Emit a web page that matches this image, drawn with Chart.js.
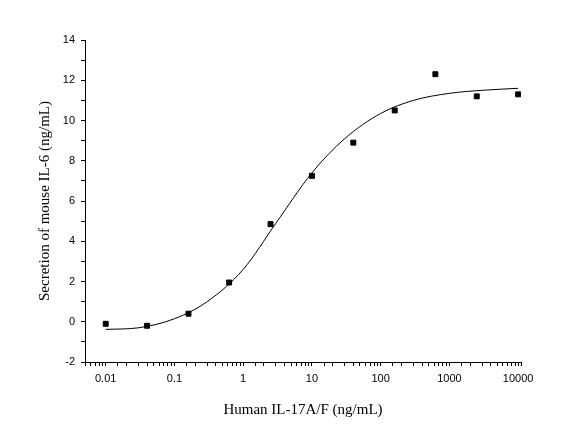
<!DOCTYPE html>
<html><head><meta charset="utf-8">
<script src="https://cdn.jsdelivr.net/npm/chart.js@4"></script>
<style>html,body{margin:0;padding:0;background:#fff}#w{width:569px;height:447px}</style>
</head><body><div id="w"><canvas id="c"></canvas></div>
<script>
const doseX = [0.01, 0.04, 0.16, 0.625, 2.5, 10, 40, 160, 625, 2500, 10000];
const secretionY = [-0.1, -0.2, 0.4, 1.95, 4.85, 7.25, 8.9, 10.5, 12.3, 11.2, 11.3];
const fitX = [0.01, 0.03, 0.1, 0.3, 1, 3, 10, 30, 100, 300, 1000, 3000, 10000];
const fitY = [-0.38, -0.3, 0.15, 1.0, 2.6, 4.9, 7.4, 9.1, 10.35, 11.0, 11.35, 11.5, 11.6];
const xTickLabels = [0.01, 0.1, 1, 10, 100, 1000, 10000];

const pts = doseX.map((x,i)=>({x, y: secretionY[i]}));
const fit = fitX.map((x,i)=>({x, y: fitY[i]}));
new Chart(document.getElementById('c'), {
  data: { datasets: [
    { type:'line', data: fit, borderColor:'#000', borderWidth:1, pointRadius:0, tension:0.4, cubicInterpolationMode:'monotone' },
    { type:'scatter', data: pts, pointStyle:'rect', pointRadius:3.5, backgroundColor:'#000', borderColor:'#000' }
  ]},
  options: {
    responsive:true, maintainAspectRatio:false, animation:false,
    layout:{ padding:{ top:40, right:48, left:32, bottom:24 } },
    plugins:{ legend:{display:false}, tooltip:{enabled:false} },
    scales:{
      x:{ type:'logarithmic', min:0.005, max:11000,
        afterFit:s=>{ s.height = 61; },
        border:{ color:'#000', width:1 },
        grid:{ drawOnChartArea:false, tickLength:4, color:'#000' },
        ticks:{ autoSkip:false, maxRotation:0, color:'#000', font:{family:'Liberation Sans', size:11}, padding:6,
          callback:(v)=> xTickLabels.includes(Number(v)) ? String(Number(v)) : '' },
        title:{ display:true, text:'Human IL-17A/F (ng/mL)', color:'#000', font:{family:'Liberation Serif', size:15}, padding:{top:8} }
      },
      y:{ min:-2, max:14,
        afterFit:s=>{ s.width = 53; },
        border:{ color:'#000', width:1 },
        grid:{ drawOnChartArea:false, tickLength:4, color:'#000' },
        ticks:{ stepSize:1, autoSkip:false, color:'#000', font:{family:'Liberation Sans', size:11}, padding:6,
          callback:(v)=> v%2===0 ? String(v) : '' },
        title:{ display:true, text:'Secretion of mouse IL-6 (ng/mL)', color:'#000', font:{family:'Liberation Serif', size:15}, padding:{bottom:4} }
      }
    }
  }
});
</script></body></html>
